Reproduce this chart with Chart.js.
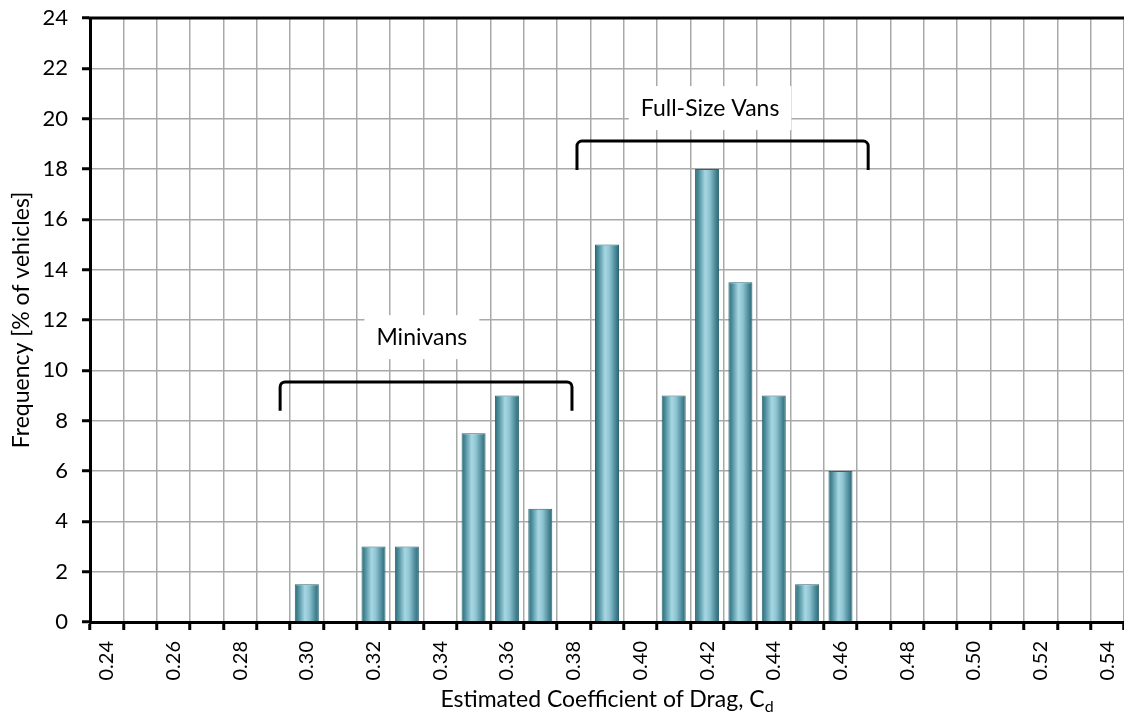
<!DOCTYPE html>
<html>
<head>
    <title>Estimated Coefficient of Drag</title>
    <script src="https://cdn.jsdelivr.net/npm/chart.js"></script>
    <style>
        html, body { margin: 0; padding: 0; background: #fff; overflow: hidden; }
        #wrap { position: relative; width: 1124px; height: 717px; }
        #xTitle {
            position: absolute; left: 90px; width: 1034px; top: 684px;
            text-align: center; font: 23px Lato, sans-serif; color: #000; line-height: 28px;
        }
        #xTitle sub { font-size: 16px; vertical-align: -5px; line-height: 0; }
    </style>
</head>
<body>
    <div id="wrap">
        <canvas id="dragChart" width="1124" height="717"></canvas>
        <div id="xTitle">Estimated Coefficient of Drag, C<sub>d</sub></div>
    </div>

    <script>
        // categories 0.24 .. 0.54
        const cdLabels = ['0.24','0.25','0.26','0.27','0.28','0.29','0.30','0.31','0.32','0.33',
                          '0.34','0.35','0.36','0.37','0.38','0.39','0.40','0.41','0.42','0.43',
                          '0.44','0.45','0.46','0.47','0.48','0.49','0.50','0.51','0.52','0.53','0.54'];
        const frequency = [0, 0, 0, 0, 0, 0, 1.5, 0, 3, 3,
                           0, 7.5, 9, 4.5, 0, 15, 0, 9, 18, 13.5,
                           9, 1.5, 6, 0, 0, 0, 0, 0, 0, 0, 0];
        const yTicks = [0, 2, 4, 6, 8, 10, 12, 14, 16, 18, 20, 22, 24];

        // group brackets: [from, to] in category index units, top and end values in %
        const groupNames = ['Minivans', 'Full-Size Vans'];
        const groupFrom = [5.2, 14.1];
        const groupTo = [13.95, 22.83];
        const groupTop = [9.54, 19.11];
        const groupEnd = [8.39, 17.96];
        const groupLabelX = [9.45, 18.09];
        const groupLabelY = [11.32, 20.42];

        const FONT = 'Lato, sans-serif';

        function barGradient(ctx) {
            const chart = ctx.chart;
            const xs = chart.scales && chart.scales.x;
            if (!xs || ctx.dataIndex === undefined) return '#5f9fae';
            const cx = xs.getPixelForValue(ctx.dataIndex);
            const w = (xs.width / cdLabels.length) * 0.72;
            if (!isFinite(cx) || !isFinite(w) || w <= 0) return '#5f9fae';
            const g = chart.ctx.createLinearGradient(cx - w / 2, 0, cx + w / 2, 0);
            g.addColorStop(0, '#2d6a77');
            g.addColorStop(0.15, '#4d8e9d');
            g.addColorStop(0.42, '#a7d7e3');
            g.addColorStop(0.6, '#8ec4d1');
            g.addColorStop(0.85, '#4a8898');
            g.addColorStop(1, '#2b6573');
            return g;
        }

        const extras = {
            id: 'extras',
            afterDatasetsDraw(chart) {
                const c = chart.ctx, xs = chart.scales.x, ys = chart.scales.y, a = chart.chartArea;
                c.save();
                // top frame line
                c.strokeStyle = '#000';
                c.lineWidth = 3;
                c.beginPath();
                c.moveTo(a.left - 1.5, a.top);
                c.lineTo(a.right + 2, a.top);
                c.stroke();

                for (let i = 0; i < groupNames.length; i++) {
                    // label box and text
                    c.font = '23px ' + FONT;
                    const tx = xs.getPixelForValue(groupLabelX[i]);
                    const ty = ys.getPixelForValue(groupLabelY[i]);
                    const tw = c.measureText(groupNames[i]).width;
                    c.fillStyle = '#fff';
                    c.fillRect(tx - tw / 2 - 12, ty - 22, tw + 24, 44);
                    c.fillStyle = '#000';
                    c.textAlign = 'center';
                    c.textBaseline = 'middle';
                    c.fillText(groupNames[i], tx, ty);

                    // bracket
                    const x1 = xs.getPixelForValue(groupFrom[i]);
                    const x2 = xs.getPixelForValue(groupTo[i]);
                    const yt = ys.getPixelForValue(groupTop[i]);
                    const ye = ys.getPixelForValue(groupEnd[i]);
                    const r = 5;
                    c.strokeStyle = '#000';
                    c.lineWidth = 3;
                    c.lineJoin = 'round';
                    c.beginPath();
                    c.moveTo(x1, ye);
                    c.arcTo(x1, yt, x1 + r, yt, r);
                    c.arcTo(x2, yt, x2, yt + r, r);
                    c.lineTo(x2, ye);
                    c.stroke();
                }
                c.restore();
            }
        };

        new Chart(document.getElementById('dragChart'), {
            type: 'bar',
            data: {
                labels: cdLabels,
                datasets: [{
                    label: 'Frequency',
                    data: frequency,
                    backgroundColor: barGradient,
                    borderColor: '#2a6673',
                    borderWidth: 1,
                    barPercentage: 0.72,
                    categoryPercentage: 1
                }]
            },
            options: {
                responsive: false,
                animation: false,
                layout: { padding: { top: 18, right: 0, left: 0, bottom: 0 } },
                plugins: {
                    legend: { display: false },
                    tooltip: { enabled: false }
                },
                scales: {
                    x: {
                        grid: {
                            offset: true,
                            color: '#a9a9a9',
                            lineWidth: 1.5,
                            tickLength: 8,
                            tickColor: '#000',
                            tickWidth: 3
                        },
                        border: { color: '#000', width: 3 },
                        ticks: {
                            autoSkip: false,
                            minRotation: 90,
                            maxRotation: 90,
                            padding: 11,
                            color: '#000',
                            font: { family: FONT, size: 20 },
                            callback: (v, i) => i % 2 === 0 ? cdLabels[i] : ''
                        },
                        afterFit: s => { s.height = 95; s.paddingLeft = 0; s.paddingRight = 0; }
                    },
                    y: {
                        min: 0,
                        max: 24,
                        afterBuildTicks: s => { s.ticks = yTicks.map(v => ({ value: v })); },
                        grid: {
                            color: '#a9a9a9',
                            lineWidth: 1.5,
                            tickLength: 8,
                            tickColor: '#000',
                            tickWidth: 3
                        },
                        border: { color: '#000', width: 3 },
                        ticks: {
                            padding: 14,
                            color: '#000',
                            font: { family: FONT, size: 22 }
                        },
                        title: {
                            display: true,
                            text: 'Frequency [% of vehicles]',
                            color: '#000',
                            font: { family: FONT, size: 23 },
                            padding: { top: 8, bottom: 0 }
                        },
                        afterFit: s => { s.width = 90; s.paddingTop = 0; s.paddingBottom = 0; }
                    }
                }
            },
            plugins: [extras]
        });
    </script>
</body>
</html>
